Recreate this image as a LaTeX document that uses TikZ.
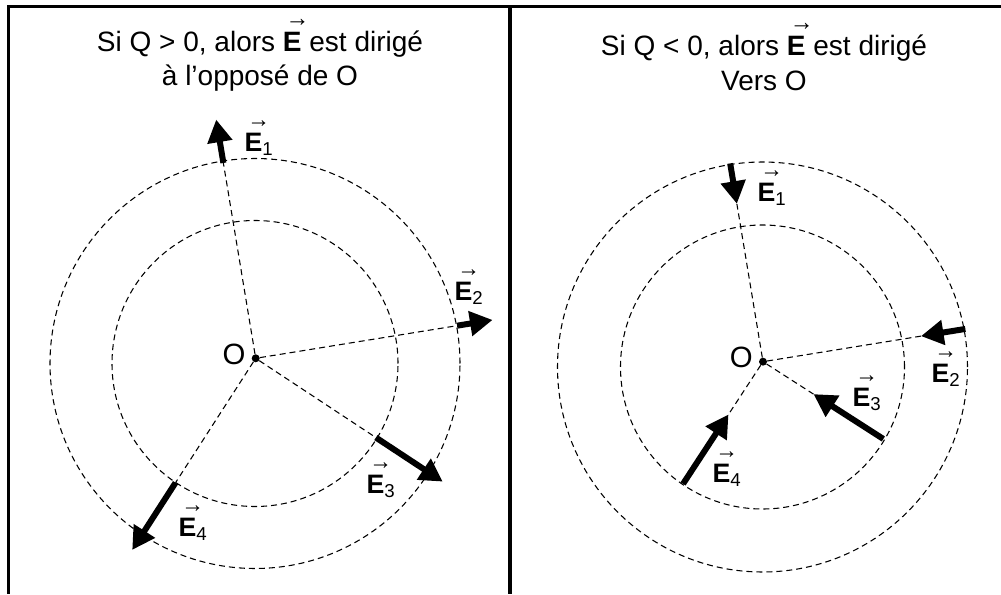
\documentclass[tikz,border=0pt]{standalone}
\usepackage{amsmath}
\usepackage{fontspec}
\setmainfont{Liberation Sans}
\usetikzlibrary{arrows.meta}
\newcommand{\arrowtop}{\rlap{\scalebox{0.85}[0.9]{\bfseries →}}\phantom{\textbf{E}}}
\newcommand{\Evec}[1]{$\overset{\arrowtop}{\textbf{E}}_{\text{#1}}$}

\begin{document}
\begin{tikzpicture}[x=0.75pt,y=0.75pt,every node/.style={font=\fontsize{20}{26}\selectfont},
   ring/.style={dashed,dash pattern=on 4.5pt off 3pt,line width=0.8pt},
   field/.style={line width=4.5pt,-{Triangle[length=17pt,width=18pt]}},
   dot/.style={circle,fill,inner sep=0pt,minimum size=6pt},
   title/.style={align=center,font=\fontsize{21}{26}\selectfont},
   frame/.style={line width=2.5pt}]
  \useasboundingbox (0,0) rectangle (1001,594);
  \draw[frame] (1001,587.3) -- (8.8,587.3) -- (8.8,0);
  \draw[frame] (510,587.3) -- (510,0);
  % Q > 0
  \node[title](t1) at (260,543){Si Q > 0, alors $\overset{\arrowtop}{\textbf{E}}$ est dirigé\\à l’opposé de O};
  \node[dot,label={[label distance=1pt,yshift=3pt,font=\fontsize{22}{26}\selectfont]left:O}](O1) at (255.7,235.7){};
  \coordinate (c1) at (255,230.5);
  \draw[ring](c1) circle[radius=143] (c1) circle[radius=205];
  \foreach \n/\a/\r/\s in {1/99.4/198/242,2/9.2/204/240,3/-33.4/144/224,4/-122.8/148/228}{
    \coordinate (p\n) at ([shift={(\a:\r)}]O1);
    \coordinate (q\n) at ([shift={(\a:\s)}]O1);
    \draw[ring](O1)--(p\n);
    \draw[field](p\n)--(q\n);
  }
  \node(e1) at (259,460){\Evec{1}};
  \node(e2) at (469,311){\Evec{2}};
  \node(e3) at (381,118){\Evec{3}};
  \node(e4) at (193,75){\Evec{4}};
  % Q < 0
  \node[title](t2) at (764,541.5){Si Q < 0, alors $\overset{\arrowtop}{\textbf{E}}$ est dirigé\\Vers O};
  \node[dot,label={[label distance=1pt,yshift=3pt,font=\fontsize{22}{26}\selectfont]left:O}](O2) at (763,232.3){};
  \coordinate (c2) at (762.5,227);
  \draw[ring](c2) circle[radius=142] (c2) circle[radius=205];
  \foreach \n/\a/\r/\s in {1/99.4/201/160,2/9.2/205/160,3/-32.7/143/60,4/-123.2/146/63}{
    \coordinate (u\n) at ([shift={(\a:\r)}]O2);
    \coordinate (v\n) at ([shift={(\a:\s)}]O2);
    \draw[ring](O2)--(v\n);
    \draw[field](u\n)--(v\n);
  }
  \node(f1) at (772,410){\Evec{1}};
  \node(f2) at (946,229){\Evec{2}};
  \node(f3) at (867,205){\Evec{3}};
  \node(f4) at (727,129){\Evec{4}};
\end{tikzpicture}
\end{document}
